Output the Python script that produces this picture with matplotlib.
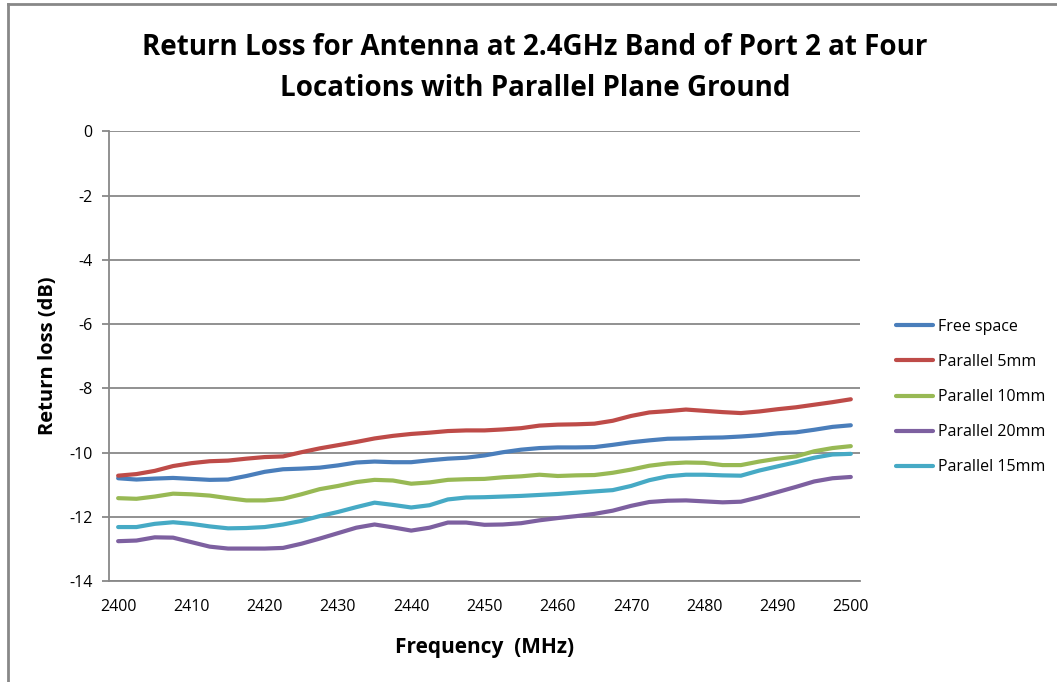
import numpy as np
import matplotlib.pyplot as plt
from matplotlib.lines import Line2D

# frequency points (MHz), 2.5 MHz steps
freq = np.arange(2400, 2500.1, 2.5)

free_space = [-10.80, -10.84, -10.81, -10.79, -10.82, -10.85, -10.84, -10.73, -10.60, -10.52,
              -10.50, -10.47, -10.40, -10.31, -10.28, -10.30, -10.30, -10.24, -10.19, -10.16,
              -10.09, -9.99, -9.91, -9.86, -9.84, -9.84, -9.83, -9.76, -9.68, -9.62,
              -9.57, -9.56, -9.54, -9.53, -9.50, -9.46, -9.40, -9.37, -9.29, -9.20, -9.15]
par_5mm = [-10.72, -10.67, -10.57, -10.42, -10.33, -10.27, -10.25, -10.19, -10.14, -10.12,
           -9.99, -9.87, -9.77, -9.67, -9.56, -9.48, -9.42, -9.38, -9.33, -9.31,
           -9.31, -9.28, -9.24, -9.16, -9.13, -9.12, -9.10, -9.01, -8.86, -8.75,
           -8.71, -8.66, -8.70, -8.74, -8.77, -8.72, -8.65, -8.59, -8.51, -8.43, -8.34]
par_10mm = [-11.42, -11.44, -11.37, -11.28, -11.30, -11.34, -11.42, -11.49, -11.49, -11.44,
            -11.30, -11.14, -11.04, -10.92, -10.85, -10.87, -10.97, -10.93, -10.85, -10.83,
            -10.82, -10.77, -10.74, -10.69, -10.73, -10.71, -10.70, -10.63, -10.53, -10.41,
            -10.34, -10.31, -10.32, -10.39, -10.39, -10.28, -10.19, -10.12, -9.96, -9.86, -9.80]
par_20mm = [-12.76, -12.74, -12.64, -12.65, -12.79, -12.93, -12.99, -12.99, -12.99, -12.97,
            -12.84, -12.68, -12.51, -12.34, -12.24, -12.33, -12.43, -12.34, -12.18, -12.18,
            -12.25, -12.24, -12.20, -12.11, -12.04, -11.98, -11.91, -11.81, -11.66, -11.54,
            -11.50, -11.49, -11.52, -11.55, -11.53, -11.39, -11.23, -11.07, -10.90, -10.80, -10.76]
par_15mm = [-12.32, -12.32, -12.22, -12.17, -12.22, -12.30, -12.36, -12.35, -12.32, -12.24,
            -12.13, -11.98, -11.85, -11.70, -11.56, -11.63, -11.71, -11.64, -11.46, -11.40,
            -11.39, -11.37, -11.35, -11.32, -11.29, -11.25, -11.21, -11.17, -11.04, -10.86,
            -10.74, -10.69, -10.69, -10.71, -10.72, -10.56, -10.43, -10.30, -10.16, -10.06, -10.04]

series = [
    ("Free space", free_space, "#4A7EBB"),
    ("Parallel 5mm", par_5mm, "#BE4B48"),
    ("Parallel 10mm", par_10mm, "#98B954"),
    ("Parallel 20mm", par_20mm, "#7D60A0"),
    ("Parallel 15mm", par_15mm, "#46AAC5"),
]

plt.rcParams["font.family"] = ["Open Sans", "DejaVu Sans"]
plt.rcParams["axes.unicode_minus"] = False

fig = plt.figure(figsize=(10.57, 6.82), dpi=100)
ax = fig.add_axes([0.1031, 0.1481, 0.7105, 0.6591])

# chart border (only left and top edges show in the picture)
fig.add_artist(Line2D([0.0075, 0.0075], [0.0, 0.9945], transform=fig.transFigure,
                      color="#888888", linewidth=2))
fig.add_artist(Line2D([0.0075, 1.0], [0.9945, 0.9945], transform=fig.transFigure,
                      color="#888888", linewidth=2))

for name, vals, col in series:
    ax.plot(freq, vals, color=col, linewidth=3, label=name, solid_capstyle="round")

# category style axis: half a step of padding on each side
ax.set_xlim(2398.75, 2501.25)
ax.set_ylim(-14, 0)
ax.set_xticks(np.arange(2400, 2501, 10))
ax.set_yticks(np.arange(-14, 1, 2))
ax.yaxis.grid(True, color="#888888", linewidth=1.3)
ax.set_axisbelow(True)
for s in ["top", "right"]:
    ax.spines[s].set_visible(False)
for s in ["left", "bottom"]:
    ax.spines[s].set_color("#888888")
    ax.spines[s].set_linewidth(1.3)
ax.tick_params(axis="y", colors="#888888", length=5, width=1.3, labelsize=11.5,
               labelcolor="black", pad=7)
ax.tick_params(axis="x", length=0, labelsize=11.5, labelcolor="black", pad=13)

ax.set_xlabel("Frequency  (MHz)", fontsize=15, fontweight="bold", labelpad=16)
ax.set_ylabel("Return loss (dB)", fontsize=14.5, fontweight="bold", labelpad=8)

fig.text(0.506, 0.9, "Return Loss for Antenna at 2.4GHz Band of Port 2 at Four\nLocations with Parallel Plane Ground",
         ha="center", va="center", fontsize=20, fontweight="bold", linespacing=1.55)

ax.legend(loc="center left", bbox_to_anchor=(1.048, 0.409), frameon=False, fontsize=11.5,
          handlelength=2.3, labelspacing=1.2, handletextpad=0.3, borderpad=0, borderaxespad=0)

fig.savefig("out.png", dpi=100)
